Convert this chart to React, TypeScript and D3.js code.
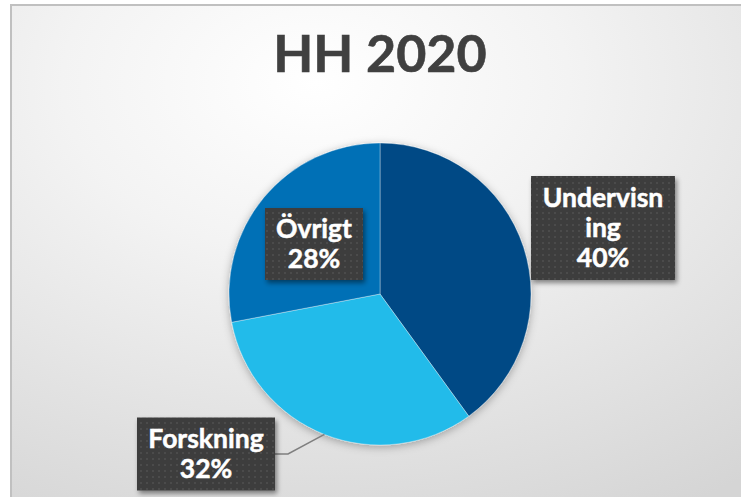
import React from "react";
import * as d3 from "d3";

const categories = ["Undervisning", "Forskning", "Övrigt"];
const values = [40, 32, 28];
const labelLines = [["Undervisn", "ing", "40%"], ["Forskning", "32%"], ["Övrigt", "28%"]];
const colors = ["#004a85", "#22bbea", "#0070b6"];

const W = 741;
const H = 497;
const cx = 380;
const cy = 294;
const R = 151;

// label boxes, relative to pie centre (manually placed like in the original)
const boxes = [
  { dx: 223, dy: -66, w: 144, h: 104 },
  { dx: -174, dy: 160, w: 138, h: 73 },
  { dx: -66, dy: -50, w: 98, h: 72 },
];

const App = () => {
  const pie = d3.pie<number>().sort(null).value((d) => d);
  const arcs = pie(values);
  const arc = d3.arc<d3.PieArcDatum<number>>().innerRadius(0).outerRadius(R);
  const lineH = 30;

  // leader line for Forskning: box edge -> elbow -> arc middle
  const f = arcs[1];
  const mid = (f.startAngle + f.endAngle) / 2;
  const edge: [number, number] = [cx + R * Math.sin(mid), cy - R * Math.cos(mid)];
  const fb = boxes[1];
  const boxRight = cx + fb.dx + fb.w / 2;
  const leader = d3.line()([
    [boxRight, cy + fb.dy],
    [boxRight + 13, cy + fb.dy],
    edge,
  ]);

  return (
    <svg width={W} height={H} style={{ position: "absolute", left: 0, top: 0 }}>
      <defs>
        <radialGradient id="bg" cx="0.4" cy="0.15" r="0.95">
          <stop offset="0" stopColor="#ffffff" />
          <stop offset="0.35" stopColor="#f3f3f3" />
          <stop offset="1" stopColor="#d5d5d5" />
        </radialGradient>
        <pattern id="dots" width="6" height="6" patternUnits="userSpaceOnUse">
          <rect width="6" height="6" fill="#3d3d3d" />
          <rect x="2" y="2" width="2" height="2" fill="#4c4c4c" />
        </pattern>
        <filter id="shadow" x="-20%" y="-20%" width="140%" height="140%">
          <feDropShadow dx="2" dy="3" stdDeviation="2.5" floodColor="#000" floodOpacity="0.45" />
        </filter>
        <filter id="pieShadow" x="-20%" y="-20%" width="140%" height="140%">
          <feDropShadow dx="0" dy="2" stdDeviation="4" floodColor="#000" floodOpacity="0.3" />
        </filter>
      </defs>
      <rect x={0} y={0} width={W} height={H} fill="#ffffff" />
      <rect x={11} y={5} width={W + 20} height={H + 20} fill="url(#bg)" stroke="#c0c0c0" strokeWidth={2} />

      <text
        x={cx}
        y={72}
        textAnchor="middle"
        fontFamily="Lato, 'Open Sans', sans-serif"
        fontWeight="bold"
        fontSize={52}
        fill="#404040"
        stroke="#404040"
        strokeWidth={0.6}
      >
        HH 2020
      </text>

      <g transform={`translate(${cx},${cy})`} filter="url(#pieShadow)">
        {arcs.map((a, i) => (
          <path key={categories[i]} d={arc(a) ?? ""} fill={colors[i]} stroke="#ffffff" strokeOpacity={0.35} strokeWidth={1} />
        ))}
      </g>

      <path d={leader ?? ""} fill="none" stroke="#7f7f7f" strokeWidth={1.5} />

      {boxes.map((b, i) => {
        const bx = cx + b.dx;
        const by = cy + b.dy;
        const lines = labelLines[i];
        const y0 = by - ((lines.length - 1) * lineH) / 2;
        return (
          <g key={categories[i]}>
            <rect x={bx - b.w / 2} y={by - b.h / 2} width={b.w} height={b.h} fill="url(#dots)" filter="url(#shadow)" />
            {lines.map((t, j) => (
              <text
                key={j}
                x={bx}
                y={y0 + j * lineH}
                dy="0.35em"
                textAnchor="middle"
                fontFamily="Lato, 'Open Sans', sans-serif"
                fontWeight="bold"
                fontSize={26.5}
                fill="#ffffff"
                stroke="#ffffff"
                strokeWidth={0.5}
              >
                {t}
              </text>
            ))}
          </g>
        );
      })}
    </svg>
  );
};

export default App;
